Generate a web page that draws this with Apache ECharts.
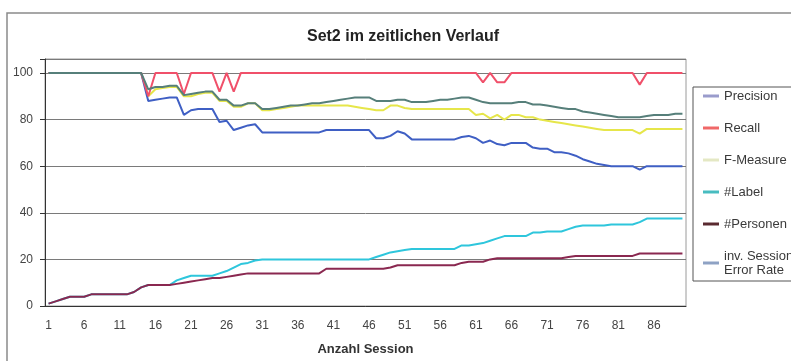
<!DOCTYPE html>
<html lang="de" style="height: 100%">
<head>
<meta charset="utf-8">
<title>Set2 im zeitlichen Verlauf</title>
</head>
<body style="height: 100%; margin: 0; background: #fff">
<div id="container" style="width: 791px; height: 361px"></div>

<script type="text/javascript" src="https://cdn.jsdelivr.net/npm/echarts@6/dist/echarts.min.js"></script>

<script type="text/javascript">
var dom = document.getElementById('container');
var myChart = echarts.init(dom, null, { renderer: 'canvas' });

// Sessions 1..90 on the x axis
var sessions = [];
for (var i = 1; i <= 90; i++) sessions.push(String(i));

var yTicks = [0, 20, 40, 60, 80, 100];

var precision = [
  100, 100, 100, 100, 100, 100, 100, 100, 100, 100,
  100, 100, 100, 100, 93, 94, 94, 94.5, 94.5, 90.5,
  91, 91.5, 92, 92, 88.5, 88.5, 86, 86, 87, 87,
  84.5, 84.5, 85, 85.5, 86, 86, 86.5, 87, 87, 87.5,
  88, 88.5, 89, 89.5, 89.5, 89.5, 88, 88, 88, 88.5,
  88.5, 87.5, 87.5, 87.5, 88, 88.5, 88.5, 89, 89.5, 89.5,
  88.5, 87.5, 87, 87, 87, 87, 87.5, 87.5, 86.5, 86.5,
  86, 85.5, 85, 84.5, 84.5, 83.5, 83, 82.5, 82, 81.5,
  81, 81, 81, 81, 81.5, 82, 82, 82, 82.5, 82.5
];

var recall = [
  100, 100, 100, 100, 100, 100, 100, 100, 100, 100,
  100, 100, 100, 100, 90, 100, 100, 100, 100, 91,
  100, 100, 100, 100, 92, 100, 92, 100, 100, 100,
  100, 100, 100, 100, 100, 100, 100, 100, 100, 100,
  100, 100, 100, 100, 100, 100, 100, 100, 100, 100,
  100, 100, 100, 100, 100, 100, 100, 100, 100, 100,
  100, 96, 100, 96, 96, 100, 100, 100, 100, 100,
  100, 100, 100, 100, 100, 100, 100, 100, 100, 100,
  100, 100, 100, 95, 100, 100, 100, 100, 100, 100
];

var fMeasure = [
  100, 100, 100, 100, 100, 100, 100, 100, 100, 100,
  100, 100, 100, 100, 90, 93, 93.5, 94, 94, 90,
  90, 91, 91.5, 91.5, 88, 88, 85.5, 85.5, 87, 87,
  84, 84, 84.5, 85, 85.5, 86, 86, 86, 86, 86,
  86, 86, 86, 85.5, 85, 84.5, 84, 84, 86, 86,
  85, 84.5, 84.5, 84.5, 84.5, 84.5, 84.5, 84.5, 84.5, 84.5,
  82, 82.5, 80.5, 82, 80, 82, 82, 81, 81, 80,
  79.5, 79, 78.5, 78, 77.5, 77, 76.5, 76, 75.5, 75.5,
  75.5, 75.5, 75.5, 74, 76, 76, 76, 76, 76, 76
];

var labelCount = [
  1, 2, 3, 4, 4, 4, 5, 5, 5, 5,
  5, 5, 6, 8, 9, 9, 9, 9, 11, 12,
  13, 13, 13, 13, 14, 15, 16.5, 18, 18.5, 19.5,
  20, 20, 20, 20, 20, 20, 20, 20, 20, 20,
  20, 20, 20, 20, 20, 20, 21, 22, 23, 23.5,
  24, 24.5, 24.5, 24.5, 24.5, 24.5, 24.5, 24.5, 26, 26,
  26.5, 27, 28, 29, 30, 30, 30, 30, 31.5, 31.5,
  32, 32, 32, 33, 34, 34.5, 34.5, 34.5, 34.5, 35,
  35, 35, 35, 36, 37.5, 37.5, 37.5, 37.5, 37.5, 37.5
];

var personen = [
  1, 2, 3, 4, 4, 4, 5, 5, 5, 5,
  5, 5, 6, 8, 9, 9, 9, 9, 9.5, 10,
  10.5, 11, 11.5, 12, 12, 12.5, 13, 13.5, 14, 14,
  14, 14, 14, 14, 14, 14, 14, 14, 14, 16,
  16, 16, 16, 16, 16, 16, 16, 16, 16.5, 17.5,
  17.5, 17.5, 17.5, 17.5, 17.5, 17.5, 17.5, 17.5, 18.5, 19,
  19, 19, 20, 20.5, 20.5, 20.5, 20.5, 20.5, 20.5, 20.5,
  20.5, 20.5, 20.5, 21, 21.5, 21.5, 21.5, 21.5, 21.5, 21.5,
  21.5, 21.5, 21.5, 22.5, 22.5, 22.5, 22.5, 22.5, 22.5, 22.5
];

var invErrorRate = [
  100, 100, 100, 100, 100, 100, 100, 100, 100, 100,
  100, 100, 100, 100, 88, 88.5, 89, 89.5, 89.5, 82,
  84, 84.5, 84.5, 84.5, 79, 79.5, 75.5, 76.5, 77.5, 78,
  74.5, 74.5, 74.5, 74.5, 74.5, 74.5, 74.5, 74.5, 74.5, 75.5,
  75.5, 75.5, 75.5, 75.5, 75.5, 75.5, 72, 72, 73, 75,
  74, 71.5, 71.5, 71.5, 71.5, 71.5, 71.5, 71.5, 72.5, 73,
  72, 70, 71, 69.5, 69, 70, 70, 70, 68, 67.5,
  67.5, 66, 66, 65.5, 64.5, 63, 62, 61, 60.5, 60,
  60, 60, 60, 58.5, 60, 60, 60, 60, 60, 60
];

// line colour in the plot / swatch colour in the legend
var series = [
  { name: 'Precision', data: precision, color: '#567f7a', legend: '#9a9ccc', z: 4 },
  { name: 'Recall', data: recall, color: '#f0506a', legend: '#f06868', z: 3 },
  { name: 'F-Measure', data: fMeasure, color: '#e6e64a', legend: '#e4e8c4', z: 2 },
  { name: '#Label', data: labelCount, color: '#2ec6dc', legend: '#48bcc0', z: 2 },
  { name: '#Personen', data: personen, color: '#8a2850', legend: '#5a2a30', z: 2 },
  { name: 'inv. Session Error Rate', data: invErrorRate, color: '#3f5fc4', legend: '#8ea2c4', z: 2 }
];

var font = 'Arial, "Liberation Sans", sans-serif';

var option = {
  animation: false,
  backgroundColor: '#fff',
  textStyle: { fontFamily: font },
  title: {
    text: 'Set2 im zeitlichen Verlauf',
    left: 403,
    top: 29,
    padding: 0,
    textAlign: 'center',
    textStyle: { fontSize: 16, fontWeight: 'bold', color: '#222', fontFamily: font }
  },
  graphic: [{
    type: 'rect',
    silent: true,
    shape: { x: 7, y: 13, width: 830, height: 400 },
    style: { fill: 'none', stroke: '#8a8a8a', lineWidth: 1.5 }
  }],
  legend: {
    orient: 'vertical',
    left: 693,
    top: 87,
    padding: [2, 10, 4, 10],
    itemGap: 18,
    itemWidth: 16,
    itemHeight: 3,
    icon: 'rect',
    borderColor: '#555',
    borderWidth: 1,
    backgroundColor: '#fff',
    textStyle: { fontSize: 13, lineHeight: 14, color: '#3a3a3a', fontFamily: font },
    formatter: function (name) {
      return name === 'inv. Session Error Rate' ? 'inv. Session\nError Rate' : name;
    },
    data: series.map(function (s) {
      return { name: s.name, itemStyle: { color: s.legend } };
    })
  },
  grid: {
    left: 45,
    right: 105,
    top: 59,
    bottom: 53,
    show: true,
    borderColor: '#9a9a9a',
    borderWidth: 1
  },
  xAxis: {
    type: 'category',
    data: sessions,
    boundaryGap: true,
    name: 'Anzahl Session',
    nameLocation: 'middle',
    nameGap: 37,
    nameTextStyle: { fontSize: 13, fontWeight: 'bold', color: '#333', fontFamily: font },
    axisLine: { lineStyle: { color: '#333', width: 1 } },
    axisTick: { interval: 0, length: 4, lineStyle: { color: '#333' } },
    axisLabel: { interval: 4, margin: 14, fontSize: 12, color: '#444' },
    splitLine: { show: false }
  },
  yAxis: {
    type: 'value',
    min: 0,
    max: 106,
    interval: 20,
    axisLine: { show: true, lineStyle: { color: '#333', width: 1 } },
    axisTick: { show: true, length: 5, lineStyle: { color: '#333' } },
    axisLabel: {
      margin: 12,
      fontSize: 12,
      color: '#444',
      formatter: function (v) { return yTicks.indexOf(v) >= 0 ? String(v) : ''; }
    },
    splitLine: { lineStyle: { color: '#7a7a7a', width: 1 } }
  },
  series: series.map(function (s) {
    return {
      name: s.name,
      type: 'line',
      data: s.data,
      z: s.z,
      showSymbol: false,
      symbol: 'none',
      color: s.color,
      lineStyle: { width: 2, color: s.color }
    };
  })
};

myChart.setOption(option);
window.addEventListener('resize', myChart.resize);
</script>
</body>
</html>
